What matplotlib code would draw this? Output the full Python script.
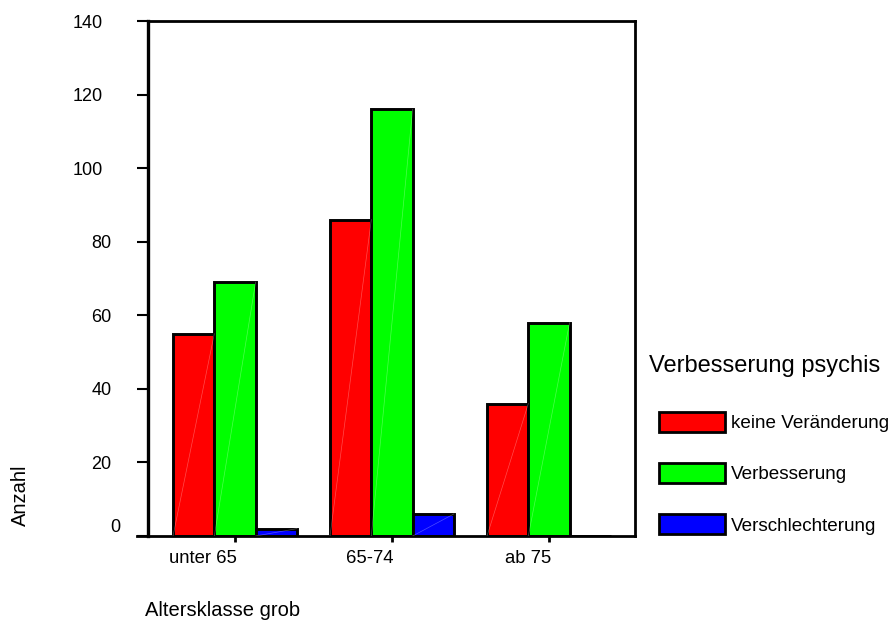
import numpy as np
import matplotlib
matplotlib.use("Agg")
import matplotlib.pyplot as plt
from matplotlib.patches import Patch
import matplotlib.transforms as mtransforms

plt.rcParams['font.family'] = ['Liberation Sans', 'DejaVu Sans']

# data
gruppen = ["unter 65", "65-74", "ab 75"]
keine_veraenderung = [55, 86, 36]
verbesserung = [69, 116, 58]
verschlechterung = [2, 6, 0]

serien = ["keine Veränderung", "Verbesserung", "Verschlechterung"]
farben = ["#ff0000", "#00ff00", "#0000ff"]
yticks = [0, 20, 40, 60, 80, 100, 120, 140]

fig = plt.figure(figsize=(8.93, 6.24), dpi=100)
ax = fig.add_axes([148/893, 1-536/624, (635-148)/893, (536-21)/624])

x = np.arange(len(gruppen))
w = 0.263
werte = [keine_veraenderung, verbesserung, verschlechterung]
for i, (v, c) in enumerate(zip(werte, farben)):
    pos = x + (i - 1) * w
    ax.bar(pos, v, width=w, color=c, edgecolor="black", linewidth=2.1, zorder=2)
    # faint diagonal like in the original SPSS export
    for p, h in zip(pos, v):
        if h > 0:
            ax.plot([p - w/2, p + w/2], [0, h], color="white", lw=0.5, alpha=0.3, zorder=3)

ax.set_xlim(-0.554, 2.548)
ax.set_ylim(0, 140)

for s in ax.spines.values():
    s.set_linewidth(2)
ax.spines['left'].set_linewidth(2.4)

ax.set_yticks(yticks)
ax.set_yticklabels([str(t) for t in yticks])
ax.tick_params(axis='y', length=8, width=1.5, pad=12, labelsize=13)
ax.set_xticks(x)
ax.set_xticklabels(gruppen, ha='right')
ax.tick_params(axis='x', length=4, width=2, pad=6, labelsize=13.3)

# shift y tick labels like in the original
for lab, t in zip(ax.get_yticklabels(), yticks):
    n = len(str(t))
    dx = -(n - 1) * 8.5 / 100
    dy = 10 / 100 if t == 0 else 0
    lab.set_transform(lab.get_transform() + mtransforms.ScaledTranslation(dx, dy, fig.dpi_scale_trans))
for lab in ax.get_xticklabels():
    lab.set_transform(lab.get_transform() + mtransforms.ScaledTranslation(2/100, 0, fig.dpi_scale_trans))

# the bottom line extends left like a tick
ax.plot([-0.554 - 11/157, -0.554], [0, 0], color="black", lw=2, clip_on=False)

fig.text(145/893, 1-610/624, "Altersklasse grob", fontsize=14.5, ha='left', va='center')
fig.text(20/893, 1-526/624, "Anzahl", fontsize=14.5, rotation=90, ha='center', va='bottom')

# legend
fig.text(649/893, 1-366/624, "Verbesserung psychis", fontsize=17, ha='left', va='center')
handles = [Patch(facecolor=c, edgecolor="black", linewidth=2) for c in farben]
fig.legend(handles, serien, loc='upper left', bbox_to_anchor=(659/893, 1-412/624),
           frameon=False, fontsize=13.6, handlelength=3.5, handleheight=1.25,
           handletextpad=0.3, labelspacing=1.63, borderpad=0, borderaxespad=0)

fig.savefig("out.png", dpi=100)
